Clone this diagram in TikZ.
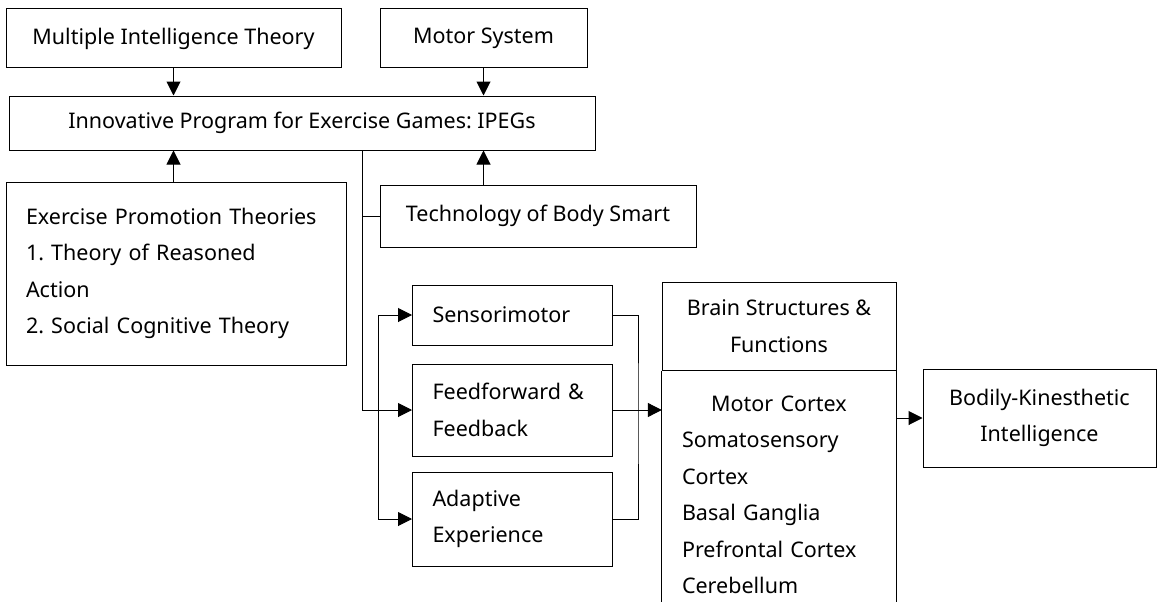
\documentclass[tikz,border=0pt]{standalone}
\usepackage{fontspec}
\setmainfont{Noto Sans}
\usetikzlibrary{arrows.meta}

\begin{document}
\begin{tikzpicture}[x = 1pt, y = -1pt,
  every node/.style = {font = \fontsize{21.5}{36.5}\selectfont\frenchspacing},
  cbox/.style = {draw, line width = 1pt, align = center, inner sep = 0pt},
  lbox/.style = {draw, line width = 1pt, align = left, inner xsep = 20pt, inner ysep = 0pt},
  link/.style = {line width = 1pt},
  arrow/.style = {line width = 1pt, -{Triangle[length = 14pt, width = 14pt]}}]
\useasboundingbox (0, 0) rectangle (1159, 602);
\node[cbox, minimum width = 335pt, minimum height = 59pt] (theory) at (173.5, 38.5) {Multiple Intelligence Theory};
\node[cbox, minimum width = 207pt, minimum height = 59pt] (motor) at (483.5, 38.5) {Motor System};
\node[cbox, minimum width = 586pt, minimum height = 54pt] (ipegs) at (302, 123) {Innovative Program for Exercise Games: IPEGs};
\node[lbox, text width = 300pt, minimum height = 183pt] (promotion) at (176, 273.5) {Exercise Promotion Theories\\1. Theory of Reasoned\\Action\\2. Social Cognitive Theory};
\node[cbox, minimum width = 316pt, minimum height = 62pt] (smart) at (538, 216) {Technology of Body Smart};
\node[lbox, text width = 160pt, minimum height = 60pt] (sensori) at (512.5, 315) {Sensorimotor};
\node[lbox, text width = 160pt, minimum height = 92pt] (feed) at (512.5, 410) {Feedforward \&\\Feedback};
\node[lbox, text width = 160pt, minimum height = 94pt] (adapt) at (512.5, 519) {Adaptive\\Experience};
\node[cbox, minimum width = 234pt, minimum height = 88pt] (brainhead) at (779, 326) {Brain Structures \&\\Functions};
\node[align = left, text width = 194pt, inner xsep = 20pt, inner ysep = 0pt, anchor = north] (brainbody) at ([yshift = -25pt] brainhead.south) {\makebox[194pt]{Motor Cortex}\\Somatosensory\\Cortex\\Basal Ganglia\\Prefrontal Cortex\\Cerebellum};
\draw[link] (brainhead.south west) -- ++(0, 232) (brainhead.south east) -- ++(0, 232);
\node[cbox, minimum width = 233pt, minimum height = 98pt] (bodily) at (1039.5, 418) {Bodily-Kinesthetic\\Intelligence};
\draw[arrow] (theory.south) -- (theory.south |- ipegs.north);
\draw[arrow] (motor.south) -- (motor.south |- ipegs.north);
\draw[arrow] (promotion.north -| theory.south) -- (theory.south |- ipegs.south);
\draw[arrow] (smart.north -| motor.south) -- (motor.south |- ipegs.south);
\coordinate (trunk) at ([xshift = 60pt] ipegs.south);
\coordinate (split) at ([xshift = -34pt] feed.west);
\coordinate (merge) at ([xshift = 25pt] feed.east);
\draw[link] (smart.west) -- (smart.west -| trunk);
\draw[arrow] (trunk) |- (feed.west);
\draw[arrow] (split) |- (sensori.west);
\draw[arrow] (split) |- (adapt.west);
\draw[link] (sensori.east) -| (merge) |- (adapt.east);
\draw[arrow] (feed.east) -- (feed.east -| brainbody.west);
\draw[arrow] (brainbody.east |- bodily.west) -- (bodily.west);
\end{tikzpicture}
\end{document}
